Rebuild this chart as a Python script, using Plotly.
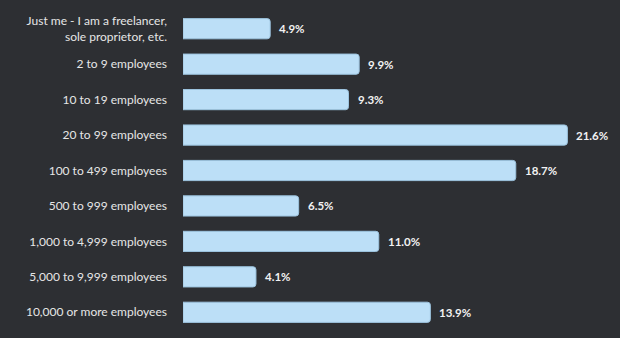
import plotly.graph_objects as go

categories = [
    "Just me - I am a freelancer,<br>sole proprietor, etc.",
    "2 to 9 employees",
    "10 to 19 employees",
    "20 to 99 employees",
    "100 to 499 employees",
    "500 to 999 employees",
    "1,000 to 4,999 employees",
    "5,000 to 9,999 employees",
    "10,000 or more employees",
]
values = [4.9, 9.9, 9.3, 21.6, 18.7, 6.5, 11.0, 4.1, 13.9]

bg = "#2d2f33"
fig = go.Figure(go.Bar(
    x=values,
    y=categories,
    orientation="h",
    marker=dict(color="#bcdff7", line=dict(color="#9cc3de", width=1), cornerradius=3),
    hoverinfo="skip",
))
for v, c in zip(values, categories):
    fig.add_annotation(x=v, y=c, text=f"<b>{v:.1f}%</b>", showarrow=False,
                       xanchor="left", xshift=7,
                       font=dict(color="#f2f2f2", size=11.5, family="Lato"))
fig.update_layout(
    width=620, height=338,
    margin=dict(l=183, r=1, t=11, b=8),
    paper_bgcolor=bg, plot_bgcolor=bg,
    bargap=0.43,
    showlegend=False,
    font=dict(family="Lato", color="#e6e6e6", size=12),
    xaxis=dict(range=[0, 24.5], visible=False, showgrid=False),
    yaxis=dict(autorange="reversed", showgrid=False, zeroline=False,
               ticks="", ticklabelstandoff=15,
               tickfont=dict(family="Lato", size=12, color="#e6e6e6")),
)
fig.write_html("out.html")
